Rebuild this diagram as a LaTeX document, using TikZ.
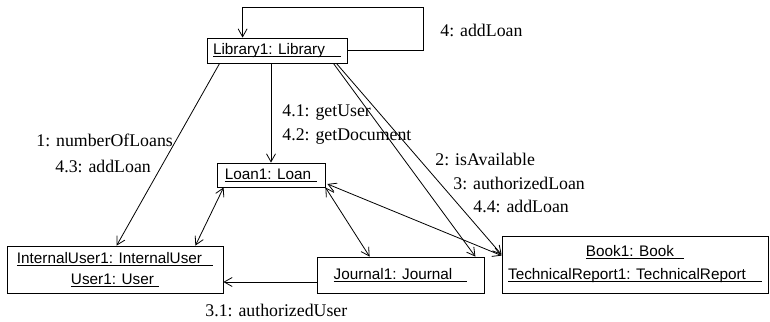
\documentclass[tikz,border=0pt]{standalone}
\usepackage{fontspec}
\setmainfont{Liberation Serif}
\setsansfont{Liberation Sans}
\usepackage{tikz}
\usetikzlibrary{arrows.meta,positioning,calc}
\newcommand{\objname}[2][8pt]{\setbox0=\hbox{#2\hspace{#1}}\rlap{\rule[-2pt]{\wd0}{0.7pt}}\box0}

\begin{document}
\begin{tikzpicture}[x=1pt, y=-1pt, line width=0.8pt,
    >={Straight Barb[length=8pt,width=9pt]},
    obj/.style={draw, rectangle, align=center, inner sep=0pt, font=\sffamily\fontsize{15.3}{21}\selectfont},
    msg/.style={anchor=west, inner sep=0pt, font=\fontsize{17.8}{22}\selectfont}]
    \useasboundingbox (0,0) rectangle (770,321);

    \node[obj, minimum width=140pt, minimum height=25pt] (lib) at (277,50.5) {\objname[16pt]{Library1: Library}};
    \node[obj, minimum width=108pt, minimum height=24pt] (loan) at (271,175) {\objname[6pt]{Loan1: Loan}};
    \node[obj, minimum width=216pt, minimum height=47pt] (iuser) at (115,269.5) {\objname[11pt]{InternalUser1: InternalUser}\\ \objname[5pt]{User1: User}};
    \node[obj, minimum width=167pt, minimum height=36pt] (jrnl) at (400.5,275) {\objname[15pt]{Journal1: Journal}};
    \node[obj, minimum width=266pt, minimum height=57pt, font=\sffamily\fontsize{15.3}{23}\selectfont] (book) at (635,264.5) {\objname[10pt]{Book1: Book}\\ \objname[16pt]{TechnicalReport1: TechnicalReport}};

    % messages
    \node[msg] (m4) at (440,30) {4: addLoan};
    \node[msg] (m1) at (36,140) {1: numberOfLoans};
    \node[msg] (m43) at (55,166) {4.3: addLoan};
    \node[msg] (m41) at (282,113) {4.1: getUser};
    \node[msg] (m42) at (282,137) {4.2: getDocument};
    \node[msg] (m2) at (435,159) {2: isAvailable};
    \node[msg] (m3) at (453,183) {3: authorizedLoan};
    \node[msg] (m44) at (473,206) {4.4: addLoan};
    \node[msg] (m31) at (205,310) {3.1: authorizedUser};

    % links
    \draw[->] (lib.east) -- ++(76,0) -- ++(0,-43.5) -| ($(lib.north west)+(36,0)$);
    \draw[->] ($(lib.south west)+(13,0)$) -- ($(iuser.north west)+(110,0)$);
    \draw[->] (loan.north |- lib.south) -- (loan.north);
    \draw[->] ($(lib.south east)+(-14,0)$) -- ($(jrnl.north east)+(-9,0)$);
    \draw[->] ($(lib.south east)+(-11,0)$) -- ($(book.north west)+(0,19)$);
    \draw[<->] ($(loan.south west)+(7,0)$) -- ($(iuser.north east)+(-28,0)$);
    \draw[<->] (loan.south east) -- ($(jrnl.north west)+(53,0)$);
    \draw[<->] ($(loan.east)+(2,9)$) -- ($(book.north west)+(0,20)$);
    \draw[->] ($(jrnl.west)+(0,7)$) coordinate (ju) -- (ju -| iuser.east);
\end{tikzpicture}
\end{document}
